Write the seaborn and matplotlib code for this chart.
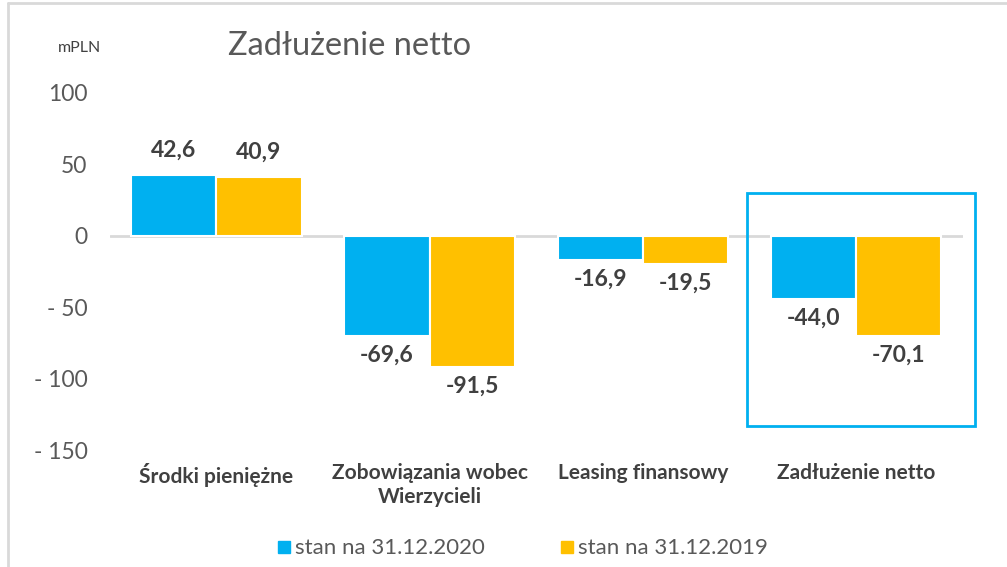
import pandas as pd
import matplotlib.pyplot as plt
import seaborn as sns
from matplotlib.patches import Rectangle
from matplotlib.lines import Line2D

# Data
categories = ['Środki pieniężne', 'Zobowiązania wobec\nWierzycieli',
              'Leasing finansowy', 'Zadłużenie netto']
series = ['stan na 31.12.2020', 'stan na 31.12.2019']
vals_2020 = [42.6, -69.6, -16.9, -44.0]
vals_2019 = [40.9, -91.5, -19.5, -70.1]
yticks = [100, 50, 0, -50, -100, -150]

colors = ['#00B0F0', '#FFC000']
text_grey = '#595959'
label_grey = '#404040'

df = pd.DataFrame({
    'kategoria': categories * 2,
    'seria': [series[0]] * 4 + [series[1]] * 4,
    'wartosc': vals_2020 + vals_2019,
})

sns.set_theme(style='white')
plt.rcParams['font.family'] = ['Lato', 'DejaVu Sans']

fig = plt.figure(figsize=(10.07, 5.67), dpi=100)
ax = fig.add_axes([0.109, 0.2055, 0.847, 0.6305])

sns.barplot(data=df, x='kategoria', y='wartosc', hue='seria',
            palette=colors, width=0.8, edgecolor='white', linewidth=1.5,
            saturation=1, ax=ax, legend=False)

ax.set_ylim(-150, 100)
ax.set_xlim(-0.5, 3.5)
ax.set_yticks(yticks)
ax.set_yticklabels([f'- {abs(v)}' if v < 0 else str(v) for v in yticks],
                   fontsize=16.5, color=text_grey)
ax.tick_params(axis='y', length=0, pad=16)
ax.tick_params(axis='x', length=0, pad=9)
ax.set_xticks(range(len(categories)))
ax.set_xticklabels(categories, fontsize=15, fontweight='bold', color=label_grey,
                   linespacing=1.25)
ax.set_xlabel('')
ax.set_ylabel('')
for s in ax.spines.values():
    s.set_visible(False)
ax.axhline(0, color='#D9D9D9', linewidth=2, zorder=0)

# data labels
for cont in ax.containers:
    for bar in cont:
        h = bar.get_height()
        xc = bar.get_x() + bar.get_width() / 2
        off = 18 if h >= 0 else -14
        ax.annotate(f'{h:.1f}'.replace('.', ','), (xc, h),
                    xytext=(0, off), textcoords='offset points',
                    ha='center', va='center', fontsize=16.5,
                    fontweight='bold', color=label_grey)

# highlight box round the last group
ax.add_patch(Rectangle((2.49, -132.9), 1.07, 162.9, fill=False,
                       edgecolor='#00B0F0', linewidth=2, clip_on=False))

# title and unit
fig.text(0.226, 0.918, 'Zadłużenie netto', fontsize=23.5, color=text_grey,
         ha='left', va='center')
fig.text(0.057, 0.915, 'mPLN', fontsize=11.5, color='#404040',
         ha='left', va='center')

# legend
handles = [Line2D([0], [0], marker='s', linestyle='', markersize=8,
                  markerfacecolor=c, markeredgecolor=c) for c in colors]
fig.legend(handles, series, loc='center', bbox_to_anchor=(0.517, 0.033),
           ncol=2, frameon=False, fontsize=16, handletextpad=0.0,
           handlelength=1.0, columnspacing=3.2, labelcolor=text_grey)

# outer chart frame
fig.add_artist(Line2D([8 / 1007, 1], [1 - 3 / 567] * 2,
                      transform=fig.transFigure, color='#D9D9D9', linewidth=2))
fig.add_artist(Line2D([8 / 1007] * 2, [0, 1 - 3 / 567],
                      transform=fig.transFigure, color='#D9D9D9', linewidth=2))

plt.savefig('out.png', dpi=100)
